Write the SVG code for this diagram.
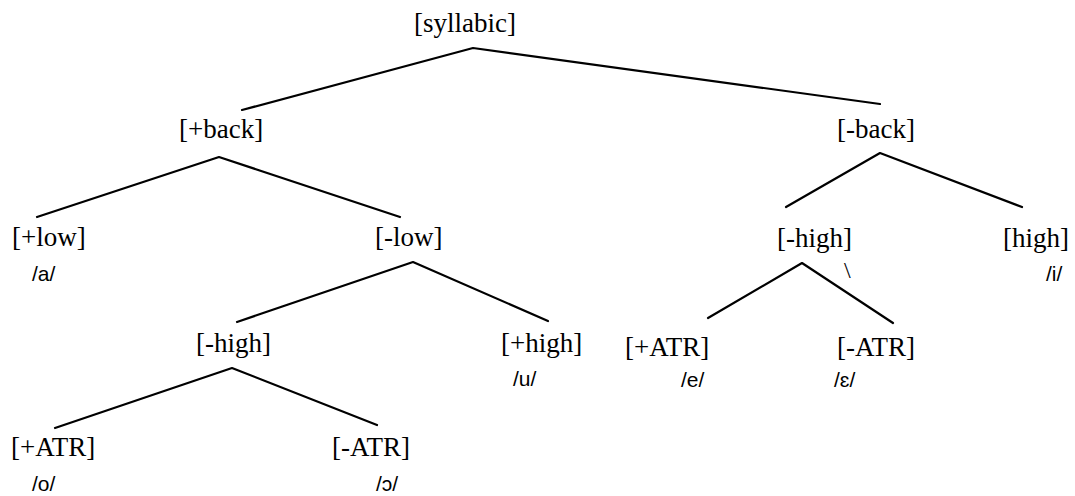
<svg xmlns="http://www.w3.org/2000/svg" width="1075" height="496" viewBox="0 0 1075 496">
<style>
.f{font-family:"Liberation Serif","Times New Roman",serif;font-size:27px;fill:#000}
.p{font-family:"Liberation Sans","Open Sans",sans-serif;font-size:21px;fill:#000}
.e{stroke:#000;stroke-width:2.2;fill:none;stroke-linecap:round;stroke-linejoin:round}
</style>
<rect width="1075" height="496" fill="#fff"/>
<g id="connectors" class="e">
<polyline points="242,110 473,48 880,104"/>
<polyline points="37,217 219,157 400,217"/>
<polyline points="786,207 880,153 1022,207"/>
<polyline points="237,322 413,262 548,321"/>
<polyline points="708,318 802,263 893,323"/>
<polyline points="55,428 232,368 377,425"/>
</g>
<g id="n-syllabic"><text class="f" x="414" y="32">[syllabic]</text></g>
<g id="n-plusback"><text class="f" x="179" y="138">[+back]</text></g>
<g id="n-minusback"><text class="f" x="837" y="138">[-back]</text></g>
<g id="n-pluslow"><text class="f" x="12" y="246">[+low]</text><text class="p" x="32" y="281">/a/</text></g>
<g id="n-minuslow"><text class="f" x="375" y="246">[-low]</text></g>
<g id="n-minushigh-r"><text class="f" x="777" y="247">[-high]</text><text class="f" x="844" y="278" style="font-size:24px">\</text></g>
<g id="n-high"><text class="f" x="1003" y="247">[high]</text><text class="p" x="1046" y="281">/i/</text></g>
<g id="n-minushigh-l"><text class="f" x="196" y="352">[-high]</text></g>
<g id="n-plushigh"><text class="f" x="501" y="352">[+high]</text><text class="p" x="513" y="386">/u/</text></g>
<g id="n-plusatr-r"><text class="f" x="625" y="356">[+ATR]</text><text class="p" x="681" y="387">/e/</text></g>
<g id="n-minusatr-r"><text class="f" x="837" y="356">[-ATR]</text><text class="p" x="834" y="387">/ɛ/</text></g>
<g id="n-plusatr-l"><text class="f" x="11" y="456">[+ATR]</text><text class="p" x="32" y="491">/o/</text></g>
<g id="n-minusatr-l"><text class="f" x="332" y="456">[-ATR]</text><text class="p" x="376" y="491">/ɔ/</text></g>
</svg>
